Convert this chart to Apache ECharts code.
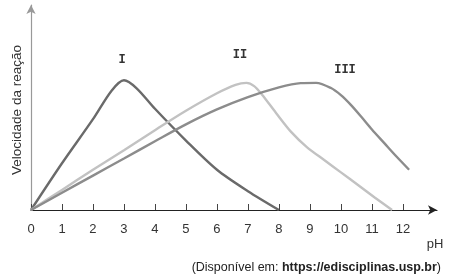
<!DOCTYPE html>
<html><head><meta charset="utf-8">
<script src="https://cdn.jsdelivr.net/npm/echarts@6/dist/echarts.min.js"></script>
<style>html,body{margin:0;padding:0;background:#fff}#c{width:450px;height:277px}</style>
</head><body><div id="c"></div>
<script>
var phTicks = [0,1,2,3,4,5,6,7,8,9,10,11,12];
var phI  = [0, 1, 2, 2.6, 3, 3.4, 4, 5, 6, 7, 8];
var velI = [0, 36, 70, 92, 100, 94, 78, 53.5, 31, 14.5, 0];
var phII  = [0, 1, 2, 3, 4, 5, 6, 6.6, 6.95, 7.2, 7.45, 7.9, 8.4, 8.9, 9.46, 10.0, 10.54, 11.1, 11.65];
var velII = [0, 15.5, 31, 46, 61.5, 76.5, 90, 96.5, 98, 95.5, 89, 75, 60, 48.5, 38.5, 29, 19.5, 9.5, 0];
var phIII  = [0, 1, 2, 3, 4, 5, 6, 7, 8, 8.7, 9.2, 9.68, 10.0, 10.32, 10.65, 11.0, 11.4, 11.8, 12.2];
var velIII = [0, 13.3, 26.5, 39.7, 53, 66, 77.5, 87, 94.5, 97.8, 98, 94, 88.5, 81, 72, 62, 51.5, 41, 31];
var seriesNames = ['I', 'II', 'III'];
var yTitle = 'Velocidade da reação';
var xTitle = 'pH';
var sourceText = 'Disponível em: ';
var sourceLink = 'https://edisciplinas.usp.br';

function pairs(xs, ys){ return xs.map(function(x,i){ return [x, ys[i]]; }); }

var chart = echarts.init(document.getElementById('c'), null, {renderer:'canvas'});
var lineCommon = function(color){
  return {type:'line', showSymbol:false, smooth:0.3,
    lineStyle:{color:color, width:2.4}, animation:false, z:3};
};
var sI = lineCommon('#6a6a6a'); sI.name = seriesNames[0]; sI.data = pairs(phI, velI);
var sII = lineCommon('#c2c2c2'); sII.name = seriesNames[1]; sII.data = pairs(phII, velII);
var sIII = lineCommon('#8c8c8c'); sIII.name = seriesNames[2]; sIII.data = pairs(phIII, velIII);

chart.setOption({
  animation:false,
  grid:{left:31, right:13, top:5, bottom:67},
  xAxis:{type:'value', min:0, max:13.1, interval:1,
    axisLine:{show:true, onZero:true, symbol:['none','arrow'], symbolSize:[7,9], lineStyle:{color:'#222', width:1.2}},
    axisTick:{show:true, inside:true, length:6, customValues:phTicks, lineStyle:{color:'#444'}},
    axisLabel:{customValues:phTicks, color:'#333', fontSize:13, fontFamily:'Liberation Sans', margin:13},
    splitLine:{show:false}
  },
  yAxis:{type:'value', min:0, max:158,
    axisLine:{show:true, symbol:['none','arrow'], symbolSize:[7,9], lineStyle:{color:'#999', width:1.2}},
    axisTick:{show:false}, axisLabel:{show:false}, splitLine:{show:false}
  },
  series:[sI, sII, sIII],
  graphic:[
    {type:'text', x:17, y:110, rotation:Math.PI/2, style:{text:yTitle, fill:'#333', font:'13.5px "Liberation Sans"', align:'center', verticalAlign:'middle'}},
    {type:'text', x:435, y:244, style:{text:xTitle, fill:'#333', font:'13px "Liberation Sans"', align:'center', verticalAlign:'middle'}},
    {type:'text', x:122, y:60, style:{text:seriesNames[0], fill:'#333', font:'bold 12px "Liberation Mono"', align:'center', verticalAlign:'middle'}},
    {type:'text', x:240, y:55, style:{text:seriesNames[1], fill:'#333', font:'bold 12px "Liberation Mono"', align:'center', verticalAlign:'middle'}},
    {type:'text', x:345, y:70, style:{text:seriesNames[2], fill:'#333', font:'bold 12px "Liberation Mono"', align:'center', verticalAlign:'middle'}},
    {type:'text', right:9, y:261, style:{
      text:'{n|(' + sourceText + '}{b|' + sourceLink + '}{n|)}',
      rich:{n:{fill:'#222', font:'12.5px "Liberation Sans"'}, b:{fill:'#222', font:'bold 12.5px "Liberation Sans"'}}
    }}
  ]
});
</script></body></html>
